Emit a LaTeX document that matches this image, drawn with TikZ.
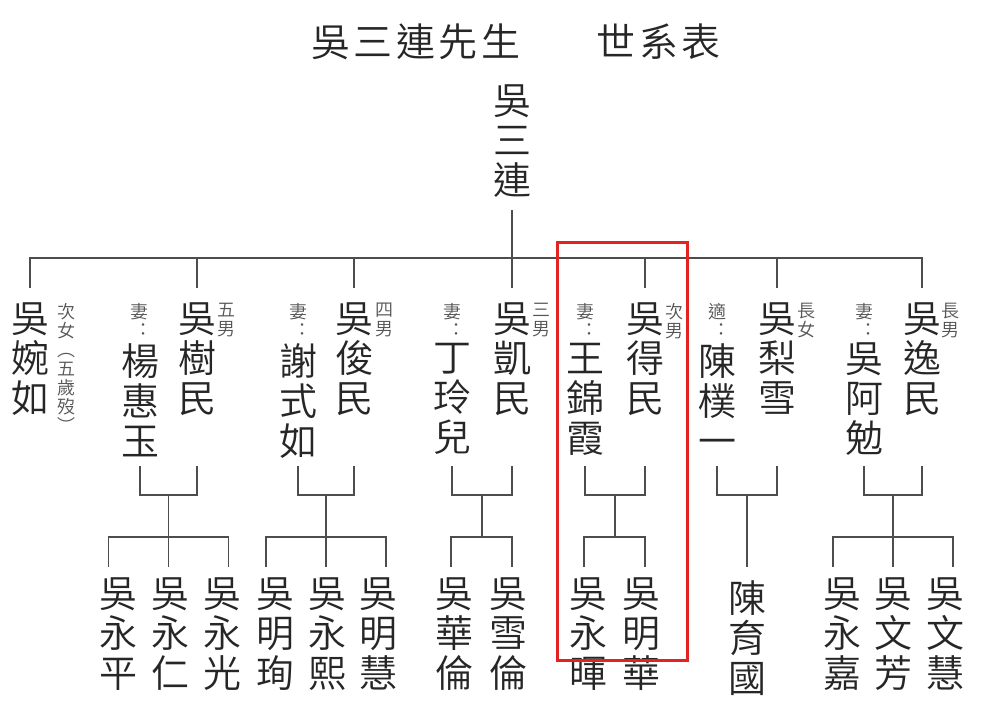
\documentclass[tikz,border=0pt]{standalone}
\usepackage{fontspec}
\IfFontExistsTF{Noto Sans CJK TC DemiLight}
	{\newfontfamily\cjk{Noto Sans CJK TC DemiLight}}
	{\newfontfamily\cjk{Noto Sans CJK TC}}
\usetikzlibrary{positioning,calc}
\definecolor{ink}{HTML}{262626}
\definecolor{notegray}{HTML}{555555}
\definecolor{linegray}{HTML}{4D4D4D}
\definecolor{boxred}{HTML}{E32222}
\tikzset{
	person/.style={font={\cjk\fontsize{38}{40}\selectfont}, text=ink, inner sep=0pt, align=center, anchor=north},
	remark/.style={font={\cjk\fontsize{18}{19}\selectfont}, text=notegray, inner sep=0pt, align=center, anchor=north},
	heading/.style={font={\cjk\fontsize{39}{40}\selectfont\addfontfeature{LetterSpace=9}}, text=ink, inner sep=0pt},
	link/.style={draw=linegray, line width=1.3pt}
}
\begin{document}
\begin{tikzpicture}[x=1pt,y=-1pt]
                \useasboundingbox (0,0) rectangle (987,708);
                \fill[white] (0,0) rectangle (987,708);
                % title and root
                \node (ttl) [heading] at (416,42) {吳三連先生};
                \node (ttr) [heading] at (659,42) {世系表};
                \node (wsl) [person] at (512,85) {吳\\三\\連};
                % second generation
                \node (wwr) [person] at (30,303) {吳\\婉\\如};
                \node [remark, below right=0pt and 8pt of wwr.north east] {次\\女\\︵\\五\\歲\\歿\\︶};
                \node [remark] at (139,303) {妻\\︓};
                \node (yhy) [person] at (140,343) {楊\\惠\\玉};
                \node (wsm) [person] at (197,303) {吳\\樹\\民};
                \node [remark, below right=0pt and 1pt of wsm.north east] {五\\男};
                \node [remark] at (298,303) {妻\\︓};
                \node (xsr) [person] at (298,343) {謝\\式\\如};
                \node (wjm) [person] at (354,303) {吳\\俊\\民};
                \node [remark, below right=0pt and 2pt of wjm.north east] {四\\男};
                \node [remark] at (452,303) {妻\\︓};
                \node (dle) [person] at (452,343) {丁\\玲\\兒};
                \node (wkm) [person] at (512,303) {吳\\凱\\民};
                \node [remark, below right=0pt and 1pt of wkm.north east] {三\\男};
                \node [remark] at (585,303) {妻\\︓};
                \node (wjx) [person] at (585,343) {王\\錦\\霞};
                \node (wdm) [person] at (645,303) {吳\\得\\民};
                \node [remark, below right=0pt and 1pt of wdm.north east] {次\\男};
                \node [remark] at (717,303) {適\\︓};
                \node (cpy) [person] at (717,343) {陳\\樸\\一};
                \node (wlx) [person] at (777,303) {吳\\梨\\雪};
                \node [remark, below right=0pt and 1pt of wlx.north east] {長\\女};
                \node [remark] at (864,303) {妻\\︓};
                \node (wam) [person] at (864,343) {吳\\阿\\勉};
                \node (wym) [person] at (922,303) {吳\\逸\\民};
                \node [remark, below right=0pt and 0pt of wym.north east] {長\\男};
                % third generation
                \node (wyp) [person] at (118,578) {吳\\永\\平};
                \node (wyr) [person] at (170,578) {吳\\永\\仁};
                \node (wyg) [person] at (222,578) {吳\\永\\光};
                \node (wmx) [person] at (275,578) {吳\\明\\珣};
                \node (wyx) [person] at (327,578) {吳\\永\\熙};
                \node (wmh) [person] at (378,578) {吳\\明\\慧};
                \node (whl) [person] at (454,578) {吳\\華\\倫};
                \node (wxl) [person] at (508,578) {吳\\雪\\倫};
                \node (wyh) [person] at (588,578) {吳\\永\\暉};
                \node (wmu) [person] at (641,578) {吳\\明\\華};
                \node (cyg) [person] at (747,580) {陳\\育\\國};
                \node (wyj) [person] at (842,578) {吳\\永\\嘉};
                \node (wwf) [person] at (893,578) {吳\\文\\芳};
                \node (wwh) [person] at (945,578) {吳\\文\\慧};
                % connectors
                \coordinate (hub) at (512,258);
                \coordinate (lv) at (0,466);
                \coordinate (lj) at (0,495);
                \coordinate (lk) at (0,537);
                \coordinate (lc) at (0,567);
                \draw[link] ([yshift=-12pt]wsl.south) -- (hub);
                \draw[link] ([yshift=15pt]wwr.north) |- (hub) -| ([yshift=15pt]wym.north);
                \foreach \p in {wsm,wjm,wkm,wdm,wlx}
                    \draw[link] (\p.north |- hub) -- ([yshift=15pt]\p.north);
                \foreach \w/\h/\m in {yhy/wsm/m1, xsr/wjm/m2, dle/wkm/m3, wjx/wdm/m4, cpy/wlx/m5, wam/wym/m6} {
                    \draw[link] (\w |- lv) |- (\w |- lj) -| (\h |- lv);
                    \coordinate (\m) at ($(\w)!.5!(\h)$);
                }
                \foreach \m in {m1,m2,m3,m4,m6}
                    \draw[link] (\m |- lj) -- (\m |- lk);
                \draw[link] (m5 |- lj) -- (m5 |- lc);
                % three children: drops 60 apart, two children: 30 either side
                \foreach \m in {m1,m2,m6} {
                    \draw[link] ($(\m |- lc)+(-60,0)$) |- (\m |- lk) -| ($(\m |- lc)+(60,0)$);
                    \draw[link] (\m |- lk) -- (\m |- lc);
                }
                \foreach \m in {m3,m4}
                    \draw[link] ($(\m |- lc)+(-31,0)$) |- (\m |- lk) -| ($(\m |- lc)+(30,0)$);
                % highlighted branch
                \draw[boxred, line width=3pt] (557,243) rectangle (687,660);
            \end{tikzpicture}
\end{document}
